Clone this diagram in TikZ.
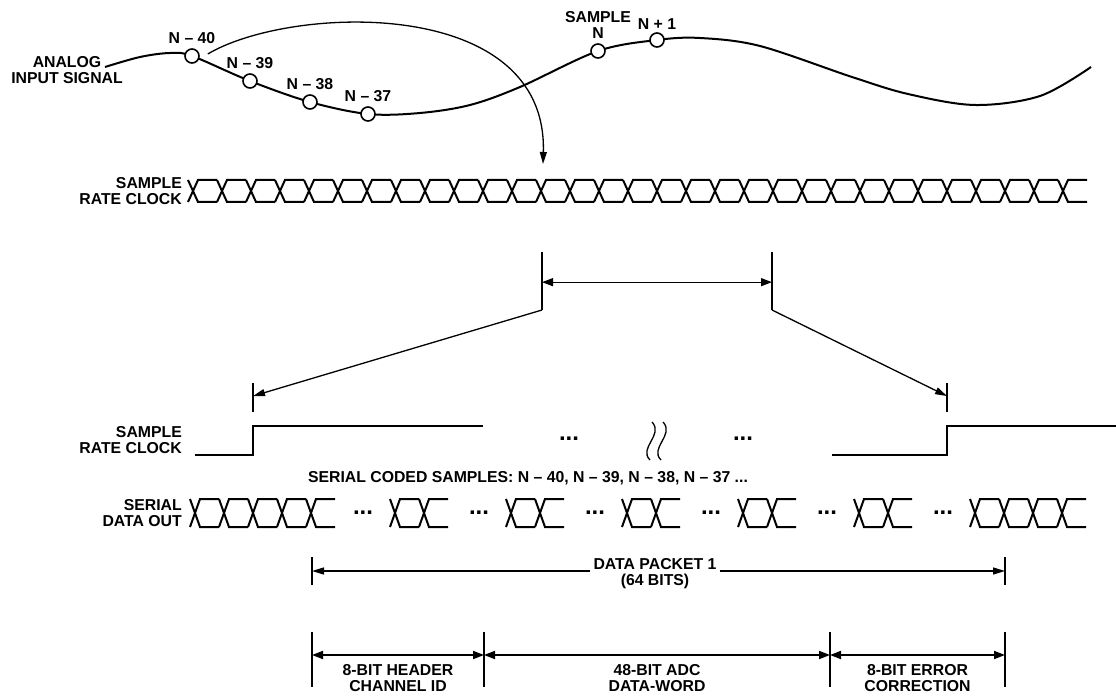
\documentclass[tikz,border=0pt]{standalone}
\usepackage{fontspec}
\setmainfont{Liberation Sans}
\usepackage{tikz}
\usetikzlibrary{arrows.meta, positioning, calc}
\tikzset{
  lbl/.style={font=\fontsize{15.8}{16}\selectfont\bfseries, align=center, inner sep=0pt},
  rowlbl/.style={lbl, align=right, anchor=east},
  dotsty/.style={font=\fontsize{24}{24}\selectfont\bfseries, inner sep=0pt},
  sig/.style={line width=2pt},
  wave/.style={line width=2pt, line join=miter},
  smp/.style={circle, draw, line width=1.6pt, fill=white, minimum size=14pt, inner sep=0pt},
  dimline/.style={line width=1.2pt},
  dimarrow/.style={line width=1.8pt, {Triangle[length=11pt,width=8pt]}-{Triangle[length=11pt,width=8pt]}},
  ptr/.style={line width=1.3pt, -{Triangle[length=12pt,width=7pt]}},
}
\begin{document}
\begin{tikzpicture}[x=1pt, y=-1pt]
  \useasboundingbox (0,0) rectangle (1116,700);

  % analog input signal
  \node[lbl] (ain) at (67,70) {ANALOG\\INPUT SIGNAL};
  \draw[sig] plot[smooth, tension=0.55] coordinates {
    (105,67) (140,57) (170,53) (192,56) (250,81) (310,102) (368,114)
    (420,113) (470,105) (520,87) (598,51) (657,40) (700,38) (760,46)
    (852,77) (908,94) (975,105) (1040,96) (1091,67)};
  \node[smp] (n40) at (192,56) {};
  \node[smp] (n39) at (250,81) {};
  \node[smp] (n38) at (310,102) {};
  \node[smp] (n37) at (368,114) {};
  \node[smp] (sn) at (598,51) {};
  \node[smp] (sn1) at (657,40) {};
  \node[lbl, above=4pt of n40] (l40) {N – 40};
  \node[lbl, above=4pt of n39] (l39) {N – 39};
  \node[lbl, above=4pt of n38] (l38) {N – 38};
  \node[lbl, above=4pt of n37] (l37) {N – 37};
  \node[lbl, above=4pt of sn] (lsn) {SAMPLE\\N};
  \node[lbl, above=2pt of sn1] (lsn1) {N + 1};

  % sample taken into the clock
  \coordinate (clkhit) at (543,164);
  \draw[ptr] ($(n40.east)+(8,-2)$) .. controls (290,5) and (548,-5) .. (clkhit);

  % sample rate clock, top
  \node[rowlbl] (clkA) at (182,191) {SAMPLE\\RATE CLOCK};
  \foreach \k in {0,...,30}
    \draw[wave] ({193+29*\k-5},180) -- ({193+29*\k+5},202) -- ({193+29*\k+24},202)
                ({193+29*\k-5},202) -- ({193+29*\k+5},180) -- ({193+29*\k+24},180);

  % one clock period
  \coordinate (winL) at (542,252);
  \coordinate (winLb) at (542,310);
  \coordinate (winR) at (772,252);
  \coordinate (winRb) at (772,310);
  \draw[dimline] (winL) -- (winLb);
  \draw[dimline] (winR) -- (winRb);
  \draw[dimarrow, line width=1.3pt] ($(winL)!0.52!(winLb)$) -- ($(winR)!0.52!(winRb)$);
  \coordinate (tkL) at (253,383);
  \coordinate (tkLb) at (253,412);
  \coordinate (tkR) at (947,383);
  \coordinate (tkRb) at (947,412);
  \draw[dimline] (tkL) -- (tkLb);
  \draw[dimline] (tkR) -- (tkRb);
  \draw[ptr] (winLb) -- ($(tkL)!0.45!(tkLb)$);
  \draw[ptr] (winRb) -- ($(tkR)!0.45!(tkRb)$);

  % sample rate clock, zoomed
  \node[rowlbl] (clkB) at (182,440) {SAMPLE\\RATE CLOCK};
  \draw[line width=2.4pt] (195,455) -- (253,455) -- (253,426) -- (483,426);
  \draw[line width=2.4pt] (832,455) -- (947,455) -- (947,426) -- (1116,426);
  \node[dotsty] (cdots1) at (569,439) {...};
  \node[dotsty] (cdots2) at (743,439) {...};
  \draw[line width=1.3pt] (652,422) .. controls (664,435) and (638,448) .. (650,460);
  \draw[line width=1.3pt] (663,422) .. controls (675,435) and (649,448) .. (661,460);

  % serial data out
  \node[lbl] (coded) at (528,478) {SERIAL CODED SAMPLES: N – 40, N – 39, N – 38, N – 37 ...};
  \node[rowlbl] (sdo) at (182,513) {SERIAL\\DATA OUT};
  \foreach \s/\n in {195/4, 395/1, 511/1, 627/1, 743/1, 859/1, 975/3}
    \foreach \k in {0,...,\n}
      \draw[wave] ({\s+29*\k-5},499) -- ({\s+29*\k+5},527) -- ({\s+29*\k+24},527)
                  ({\s+29*\k-5},527) -- ({\s+29*\k+5},499) -- ({\s+29*\k+24},499);
  \foreach \d in {363,479,595,711,827,943}
    \node[dotsty] (sdots\d) at (\d,513) {...};

  % data packet
  \coordinate (pL) at (312,571);
  \coordinate (pR) at (1005,571);
  \draw[dimline] (312,557) -- (312,585);
  \draw[dimline] (1005,557) -- (1005,585);
  \node[lbl, inner sep=3pt] (pkt) at (655,574) {DATA PACKET 1\\(64 BITS)};
  \draw[ptr] (pkt.west |- pL) -- (pL);
  \draw[ptr] (pkt.east |- pR) -- (pR);

  % packet fields
  \coordinate (b1) at (312,655);
  \coordinate (b2) at (484,655);
  \coordinate (b3) at (830,655);
  \coordinate (b4) at (1005,655);
  \foreach \b in {b1,b2,b3,b4}
    \draw[dimline] ($(\b)+(0,-23)$) -- ($(\b)+(0,32)$);
  \draw[dimarrow] (b1) -- (b2);
  \draw[dimarrow] (b2) -- (b3);
  \draw[dimarrow] (b3) -- (b4);
  \node[lbl, below=9pt] (hdr) at ($(b1)!0.5!(b2)$) {8-BIT HEADER\\CHANNEL ID};
  \node[lbl, below=9pt] (adc) at ($(b2)!0.5!(b3)$) {48-BIT ADC\\DATA-WORD};
  \node[lbl, below=9pt] (ecc) at ($(b3)!0.5!(b4)$) {8-BIT ERROR\\CORRECTION};
\end{tikzpicture}
\end{document}
